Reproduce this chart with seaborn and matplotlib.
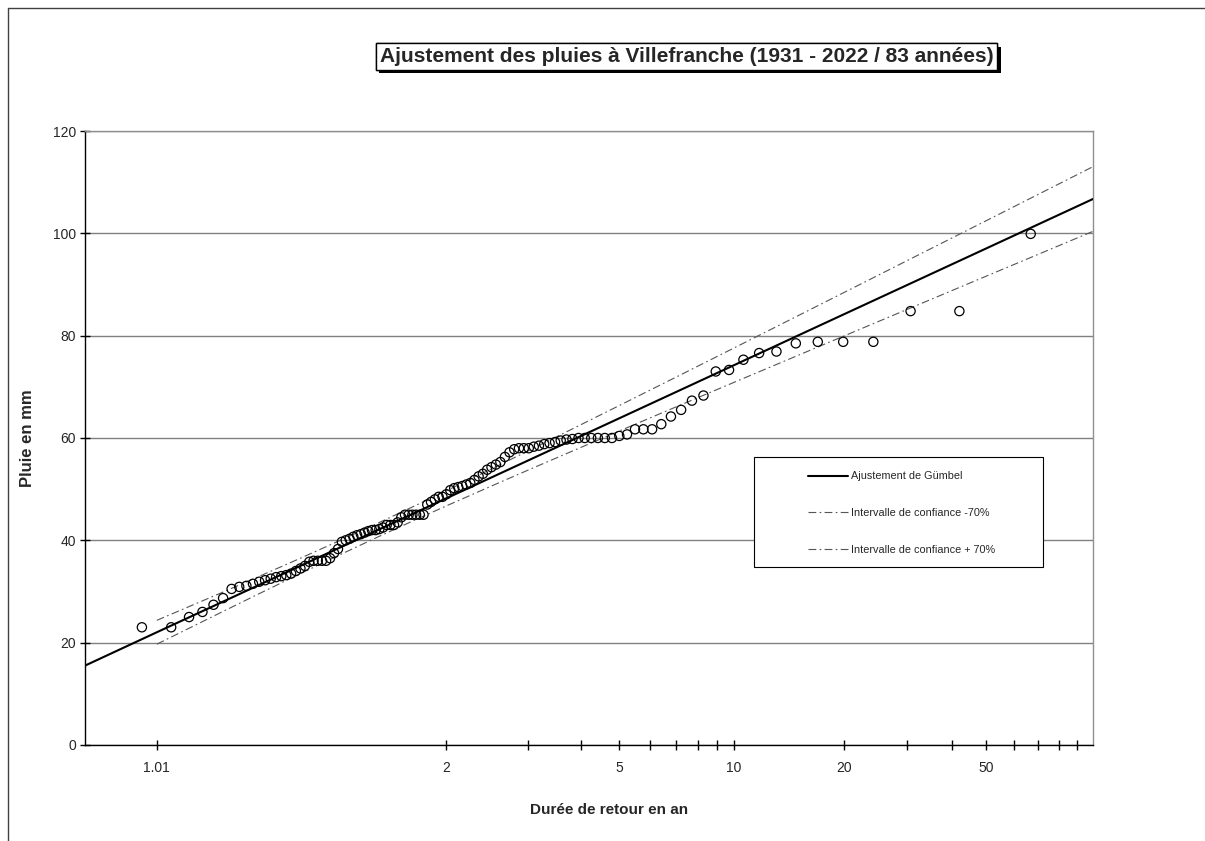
import numpy as np
import matplotlib
matplotlib.use("Agg")
import matplotlib.pyplot as plt
import matplotlib.patheffects as pe
from matplotlib.lines import Line2D
from matplotlib.patches import Rectangle
from matplotlib.ticker import FixedLocator, NullFormatter
import seaborn as sns

sns.set_style("white")
plt.rcParams['font.family'] = ['Liberation Sans', 'DejaVu Sans']

# observed rains (sorted) and their empirical return periods (years)
obs_T = [1.0062, 1.0152, 1.0244, 1.0337, 1.0432, 1.0529, 1.0628, 1.0728, 1.0831, 1.0935,
         1.1042, 1.1150, 1.1261, 1.1374, 1.1489, 1.1607, 1.1727, 1.1850, 1.1975, 1.2103,
         1.2233, 1.2366, 1.2503, 1.2642, 1.2785, 1.2930, 1.3080, 1.3232, 1.3388, 1.3548,
         1.3712, 1.3880, 1.4052, 1.4228, 1.4409, 1.4595, 1.4785, 1.4980, 1.5181, 1.5387,
         1.5598, 1.5816, 1.6040, 1.6270, 1.6507, 1.6750, 1.7002, 1.7260, 1.7527, 1.7802,
         1.8086, 1.8379, 1.8682, 1.8995, 1.9319, 1.9653, 2.0000, 2.0359, 2.0731, 2.1117,
         2.1518, 2.1934, 2.2367, 2.2817, 2.3285, 2.3774, 2.4283, 2.4814, 2.5369, 2.5950,
         2.6557, 2.7194, 2.7862, 2.8564, 2.9302, 3.0080, 3.0899, 3.1765, 3.2680, 3.3650,
         3.4679, 3.5773, 3.6938, 3.8182, 3.9512, 4.0939, 4.2472, 4.4125, 4.5911, 4.7848,
         4.9956, 5.2258, 5.4783, 5.7563, 6.0642, 6.4068, 6.7904, 7.2229, 7.7143, 8.2774,
         8.9291, 9.6923, 10.598, 11.691, 13.034, 14.727, 16.925, 19.895, 24.128, 30.649,
         42.0, 66.706]
obs_P = [23, 23, 25, 26, 27.4, 28.7, 30.5, 30.9, 31.1, 31.5,
         31.9, 32.2, 32.5, 32.8, 33, 33.2, 33.5, 34, 34.5, 35,
         35.8, 36, 36, 36, 36, 36.5, 37.5, 38.3, 39.7, 40,
         40.3, 40.7, 41, 41.2, 41.5, 41.8, 42, 42, 42.2, 42.5,
         43, 43, 43, 43.5, 44.5, 45, 45, 45, 45, 45,
         45, 47, 47.5, 48, 48.5, 48.5, 49, 49.8, 50.2, 50.4,
         50.6, 50.9, 51.2, 51.8, 52.5, 53, 53.8, 54.3, 54.8, 55.3,
         56.3, 57.2, 57.8, 58, 58, 58, 58.3, 58.5, 58.8, 59,
         59.2, 59.5, 59.7, 59.8, 60, 60, 60, 60, 60, 60,
         60.4, 60.7, 61.7, 61.7, 61.7, 62.7, 64.2, 65.5, 67.3, 68.3,
         73, 73.3, 75.3, 76.6, 76.9, 78.5, 78.8, 78.8, 78.8, 84.8,
         84.8, 99.9]

# Gumbel fit
fit_T = [1.000618, 1.01, 2, 5, 10, 20, 50, 100]
fit_P = [15.50, 22.03, 48.21, 63.87, 74.24, 84.19, 97.06, 106.71]

# confidence band (70%)
ci_T = [1.01, 1.05, 1.1, 1.2, 1.3, 1.5, 1.75, 2, 2.5, 3, 4, 5, 7, 10, 15, 20, 30, 50, 70, 100]
ci_low = [19.70, 25.84, 29.35, 33.58, 36.44, 40.49, 44.04, 46.73, 50.74, 53.74,
          58.14, 61.38, 66.07, 70.88, 76.21, 79.94, 85.14, 91.64, 95.89, 100.39]
ci_high = [24.36, 29.66, 32.75, 36.58, 39.26, 43.19, 46.82, 49.69, 54.10, 57.50,
           62.58, 66.36, 71.89, 77.60, 83.97, 88.44, 94.68, 102.48, 107.61, 113.03]

major_T = [1.01, 2, 5, 10, 20, 50]
major_labels = ['1.01', '2', '5', '10', '20', '50']
minor_T = [3, 4, 6, 7, 8, 9, 30, 40, 60, 70, 80, 90]


def gumbel_u(t):
    t = np.asarray(t, dtype=float)
    with np.errstate(all='ignore'):
        p = np.clip(1.0 - 1.0 / t, 1e-300, 1 - 1e-16)
        return -np.log(-np.log(p))


def gumbel_t(u):
    u = np.asarray(u, dtype=float)
    with np.errstate(all='ignore'):
        return -1.0 / np.expm1(-np.exp(-u))


fig, ax = plt.subplots(figsize=(12.05, 8.41), dpi=100)
fig.subplots_adjust(left=0.0705, right=0.907, bottom=0.1142, top=0.8442)
ax.set_xscale('function', functions=(gumbel_u, gumbel_t))

ci_style = (0, (7, 3, 1.5, 3))
sns.lineplot(x=ci_T, y=ci_low, ax=ax, color='#555555', lw=0.8, linestyle=ci_style,
             estimator=None, sort=False, zorder=3)
sns.lineplot(x=ci_T, y=ci_high, ax=ax, color='#555555', lw=0.8, linestyle=ci_style,
             estimator=None, sort=False, zorder=3)
sns.lineplot(x=fit_T, y=fit_P, ax=ax, color='black', lw=1.5,
             estimator=None, sort=False, zorder=3)
sns.scatterplot(x=obs_T, y=obs_P, ax=ax, marker='o', s=44, facecolor='none',
                edgecolor='black', linewidth=0.9, zorder=4)

ax.set_xlim(float(gumbel_t(-2.0)), 100)
ax.set_ylim(0, 120)
ax.xaxis.set_major_locator(FixedLocator(major_T))
ax.set_xticklabels(major_labels)
ax.xaxis.set_minor_locator(FixedLocator(minor_T))
ax.xaxis.set_minor_formatter(NullFormatter())
ax.set_yticks(range(0, 121, 20))

ax.tick_params(axis='x', which='both', bottom=True, direction='inout', length=7,
               width=1, color='black', labelsize=10, pad=8)
ax.tick_params(axis='y', left=True, direction='inout', length=7, width=1,
               color='black', labelsize=10, pad=3)

ax.yaxis.grid(True, color='#808080', lw=1)
ax.xaxis.grid(False)
ax.set_axisbelow(True)
for side in ['left', 'bottom']:
    ax.spines[side].set_color('black')
    ax.spines[side].set_linewidth(1)
for side in ['top', 'right']:
    ax.spines[side].set_color('#909090')
    ax.spines[side].set_linewidth(1)

ax.set_xlabel('')
ax.set_ylabel('')
fig.text(0.5054, 0.037, 'Durée de retour en an', ha='center', va='center',
         fontsize=11, fontweight='bold')
fig.text(0.0232, 0.479, 'Pluie en mm', ha='center', va='center', rotation=90,
         fontsize=12, fontweight='bold')

title = fig.text(0.5697, 0.9328,
                 'Ajustement des pluies à Villefranche (1931 - 2022 / 83 années)',
                 ha='center', va='center', fontsize=15, fontweight='bold',
                 bbox=dict(boxstyle='square,pad=0.18', fc='white', ec='black', lw=1))
title.get_bbox_patch().set_path_effects([
    pe.withSimplePatchShadow(offset=(2.5, -2.5), shadow_rgbFace='black', alpha=1.0),
    pe.Normal()])

# legend box
ax.add_patch(Rectangle((0.6637, 0.2899), 0.2867, 0.1791, transform=ax.transAxes,
                       fc='white', ec='black', lw=0.8, zorder=5))
handles = [Line2D([], [], color='black', lw=1.5),
           Line2D([], [], color='#555555', lw=0.8, linestyle=ci_style),
           Line2D([], [], color='#555555', lw=0.8, linestyle=ci_style)]
labels = ['Ajustement de Gümbel', 'Intervalle de confiance -70%',
          'Intervalle de confiance + 70%']
leg = ax.legend(handles, labels, loc='upper left', bbox_to_anchor=(0.7173, 0.4455),
                frameon=False, fontsize=7.8, borderpad=0, borderaxespad=0,
                handlelength=3.7, handletextpad=0.3, labelspacing=2.45)
leg.set_zorder(6)

# outer frame lines of the original sheet
fig.add_artist(Line2D([8 / 1205, 8 / 1205], [0, 1 - 8 / 841], color='#404040', lw=1))
fig.add_artist(Line2D([8 / 1205, 1], [1 - 8 / 841, 1 - 8 / 841], color='#404040', lw=1))

fig.savefig('out.png', dpi=100)
